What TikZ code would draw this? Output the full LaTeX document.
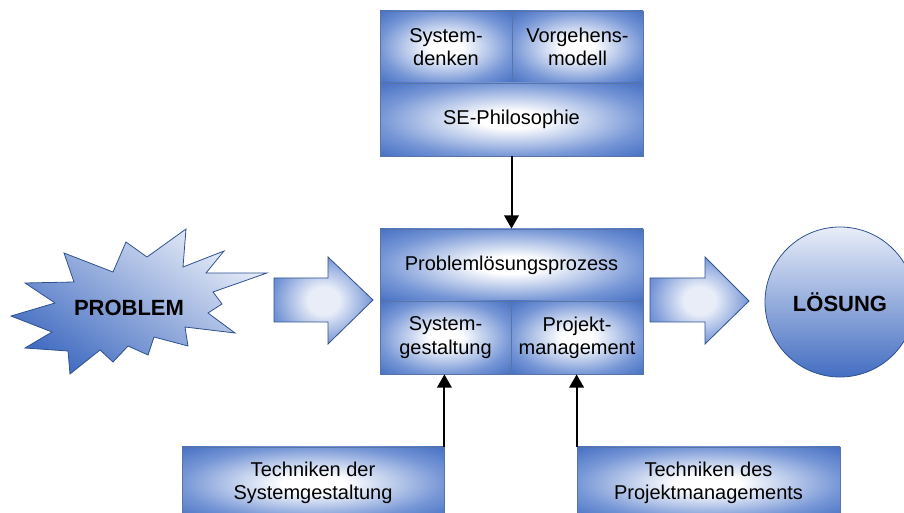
\documentclass[tikz,border=0pt]{standalone}
\usepackage{fontspec}
\setmainfont{Liberation Sans}
\usetikzlibrary{arrows.meta}

\definecolor{edgeblue}{RGB}{47,82,143}
\definecolor{fillblue}{RGB}{68,110,194}
\definecolor{midblue}{RGB}{118,150,214}
\definecolor{paleblue}{RGB}{232,237,248}

% white core fading to blue towards the border
\pgfdeclareradialshading{boxglow}{\pgfpoint{0bp}{0bp}}{%
  color(0bp)=(white); color(6bp)=(white); color(25bp)=(midblue);
  color(36bp)=(fillblue); color(50bp)=(fillblue)}
\pgfdeclareradialshading{arrowglow}{\pgfpoint{0bp}{0bp}}{%
  color(0bp)=(paleblue); color(8bp)=(paleblue); color(25bp)=(midblue);
  color(36bp)=(fillblue); color(50bp)=(fillblue)}

\tikzset{
  box/.style={rectangle, draw=edgeblue!80, line width=0.6pt, shading=boxglow,
    inner sep=0pt, align=center, text=black,
    font=\fontsize{15}{17.5}\selectfont},
  con/.style={line width=1.5pt, -{Triangle[length=10pt,width=11pt]}},
  blockarrow/.style={draw=edgeblue, line width=0.6pt, shading=arrowglow},
  bold/.style={font=\fontsize{16.5}{19}\selectfont\bfseries, text=black},
}

\begin{document}
\begin{tikzpicture}[x=0.75pt,y=-0.75pt]
\useasboundingbox (0,0) rectangle (904,513);

% SE-Philosophie block
\node[box, minimum width=99pt,    minimum height=54pt]    (sd) at (446,47)    {System-\\denken};
\node[box, minimum width=98.25pt, minimum height=54pt]    (vm) at (577.5,47)  {Vorgehens-\\modell};
\node[box, minimum width=197.25pt,minimum height=54.75pt] (se) at (511.5,119.5) {SE-Philosophie};

% process block
\node[box, minimum width=197.25pt,minimum height=54pt]    (pl) at (511.5,265) {Problemlösungsprozess};
\node[box, minimum width=98.25pt, minimum height=54.75pt] (sg) at (445.5,337.5) {System-\\gestaltung};
\node[box, minimum width=99pt,    minimum height=54.75pt] (pm) at (577,337.5) {Projekt-\\management};

% technique boxes
\node[box, minimum width=196.5pt, minimum height=54pt] (tsg) at (313,483) {Techniken der\\Systemgestaltung};
\node[box, minimum width=197.25pt,minimum height=54pt] (tpm) at (708.5,483) {Techniken des\\Projektmanagements};

% connectors
\draw[con] (se.south) -- (pl.north);
\draw[con] (tsg.north east) -- (tsg.north east |- sg.south);
\draw[con] (tpm.north west) -- (tpm.north west |- pm.south);

% problem burst
\path[draw=edgeblue, line width=0.6pt, top color=paleblue, bottom color=fillblue, shading angle=-35]
  (126,242) -- (113,272) -- (64,253) -- (74,282) -- (25,283) -- (55,303) -- (11,316)
  -- (52,332) -- (25,348) -- (68,351) -- (70,374) -- (100,350) -- (113,362) -- (128,346)
  -- (148,355) -- (154,337) -- (188,346) -- (185,327) -- (235,333) -- (208,313)
  -- (222,304) -- (213,292) -- (267,273) -- (206,273) -- (224,251) -- (183,267)
  -- (186,229) -- (147,257) -- cycle;
\node[bold] (problem) at (129,308) {PROBLEM};

% block arrows
\path[blockarrow] (274,278) -- (328,278) -- (328,257) -- (373,300) -- (328,344)
  -- (328,322) -- (274,322) -- cycle;
\path[blockarrow] (650,278) -- (705,278) -- (705,257) -- (749,301) -- (705,344)
  -- (705,322) -- (650,322) -- cycle;

% solution
\node[circle, draw=edgeblue, line width=0.6pt, minimum size=112.5pt, inner sep=0pt,
  top color=paleblue, bottom color=fillblue, bold] (loesung) at (840,302) {LÖSUNG};
\end{tikzpicture}
\end{document}
